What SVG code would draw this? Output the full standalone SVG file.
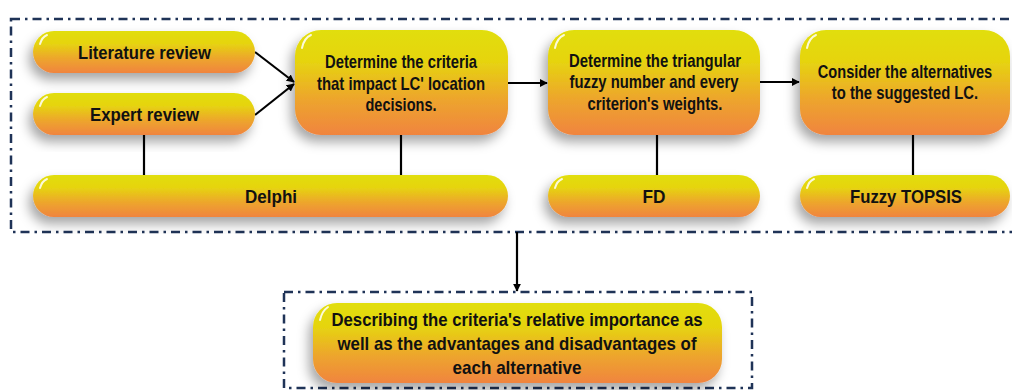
<svg xmlns="http://www.w3.org/2000/svg" width="1012" height="390" viewBox="0 0 1012 390">
<defs>
<linearGradient id="g" x1="0" y1="0" x2="0" y2="1">
<stop offset="0" stop-color="#e1de08"/>
<stop offset="0.3" stop-color="#e6d410"/>
<stop offset="0.65" stop-color="#eda62c"/>
<stop offset="1" stop-color="#f0843f"/>
</linearGradient>
<filter id="sh" x="-20%" y="-30%" width="140%" height="170%">
<feDropShadow dx="-4" dy="7" stdDeviation="6" flood-color="#000" flood-opacity="0.35"/>
</filter>
<marker id="ah" viewBox="0 0 10 10" refX="9" refY="5" markerWidth="8" markerHeight="8" orient="auto" markerUnits="userSpaceOnUse">
<path d="M0,0 L10,5 L0,10 z" fill="#000"/>
</marker>
</defs>
<style>
.n{fill:url(#g);filter:url(#sh)}
.t{font-family:"Liberation Sans",Arial,sans-serif;font-weight:bold;font-size:18.5px;fill:#111;text-anchor:middle}
.b{fill:none;stroke:#1f3357;stroke-width:2.5;stroke-dasharray:9 5 2.5 5}
.c{stroke:#000;stroke-width:2.2;fill:none}
.hl{fill:none;stroke:#fff;stroke-width:2;stroke-linecap:round;opacity:0.85}
</style>
<rect width="1012" height="390" fill="#fff"/>
<rect class="b" x="11" y="19" width="1010" height="213"/>
<rect class="b" x="284" y="292" width="468" height="96"/>
<g id="connectors">
<line class="c" x1="255" y1="52" x2="294" y2="82" marker-end="url(#ah)"/>
<line class="c" x1="255" y1="115" x2="294" y2="84" marker-end="url(#ah)"/>
<line class="c" x1="508" y1="83" x2="547" y2="83" marker-end="url(#ah)"/>
<line class="c" x1="760" y1="82" x2="799" y2="82" marker-end="url(#ah)"/>
<line class="c" x1="144" y1="135" x2="144" y2="175"/>
<line class="c" x1="401" y1="135" x2="401" y2="175"/>
<line class="c" x1="657" y1="135" x2="657" y2="175"/>
<line class="c" x1="913" y1="135" x2="913" y2="175"/>
<line class="c" x1="517" y1="232" x2="517" y2="291" marker-end="url(#ah)"/>
</g>
<g id="lit">
<rect class="n" x="33" y="31" width="222" height="42" rx="21"/>
<path class="hl" d="M40,44 Q42,37 47,35"/>
<text class="t" x="144.5" y="59" textLength="133" lengthAdjust="spacingAndGlyphs">Literature review</text>
</g>
<g id="expert">
<rect class="n" x="33" y="93" width="222" height="42" rx="21"/>
<path class="hl" d="M40,106 Q42,99 47,97"/>
<text class="t" x="144.5" y="121" textLength="109" lengthAdjust="spacingAndGlyphs">Expert review</text>
</g>
<g id="criteria">
<rect class="n" x="295" y="30" width="213" height="105" rx="26"/>
<path class="hl" d="M302,48 Q304,38 311,35"/>
<text class="t" x="401" y="68" textLength="152" lengthAdjust="spacingAndGlyphs">Determine the criteria</text>
<text class="t" x="401" y="90" textLength="168" lengthAdjust="spacingAndGlyphs">that impact LC' location</text>
<text class="t" x="401" y="111" textLength="71" lengthAdjust="spacingAndGlyphs">decisions.</text>
</g>
<g id="triangular">
<rect class="n" x="548" y="30" width="212" height="105" rx="26"/>
<path class="hl" d="M555,48 Q557,38 564,35"/>
<text class="t" x="655" y="67" textLength="172" lengthAdjust="spacingAndGlyphs">Determine the triangular</text>
<text class="t" x="654" y="88" textLength="169" lengthAdjust="spacingAndGlyphs">fuzzy number and every</text>
<text class="t" x="655" y="110" textLength="135" lengthAdjust="spacingAndGlyphs">criterion's weights.</text>
</g>
<g id="consider">
<rect class="n" x="800" y="30" width="210" height="105" rx="26"/>
<path class="hl" d="M807,48 Q809,38 816,35"/>
<text class="t" transform="translate(905 78) scale(0.79 1)" x="0" y="0">Consider the alternatives</text>
<text class="t" transform="translate(905 99) scale(0.8 1)" x="0" y="0">to the suggested LC.</text>
</g>
<g id="delphi">
<rect class="n" x="33" y="175" width="475" height="42" rx="21"/>
<path class="hl" d="M40,188 Q42,181 47,179"/>
<text class="t" x="271" y="203" textLength="52" lengthAdjust="spacingAndGlyphs">Delphi</text>
</g>
<g id="fd">
<rect class="n" x="548" y="175" width="212" height="42" rx="21"/>
<path class="hl" d="M555,188 Q557,181 562,179"/>
<text class="t" x="654" y="203" textLength="23" lengthAdjust="spacingAndGlyphs">FD</text>
</g>
<g id="topsis">
<rect class="n" x="800" y="175" width="210" height="42" rx="21"/>
<path class="hl" d="M807,188 Q809,181 814,179"/>
<text class="t" x="906" y="203" textLength="112" lengthAdjust="spacingAndGlyphs">Fuzzy TOPSIS</text>
</g>
<g id="result">
<rect class="n" x="313" y="303" width="409" height="80" rx="24"/>
<path class="hl" d="M320,320 Q322,311 328,307"/>
<text class="t" x="517" y="326" textLength="371" lengthAdjust="spacingAndGlyphs">Describing the criteria's relative importance as</text>
<text class="t" x="517" y="350" textLength="359" lengthAdjust="spacingAndGlyphs">well as the advantages and disadvantages of</text>
<text class="t" x="517" y="374" textLength="129" lengthAdjust="spacingAndGlyphs">each alternative</text>
</g>
</svg>
